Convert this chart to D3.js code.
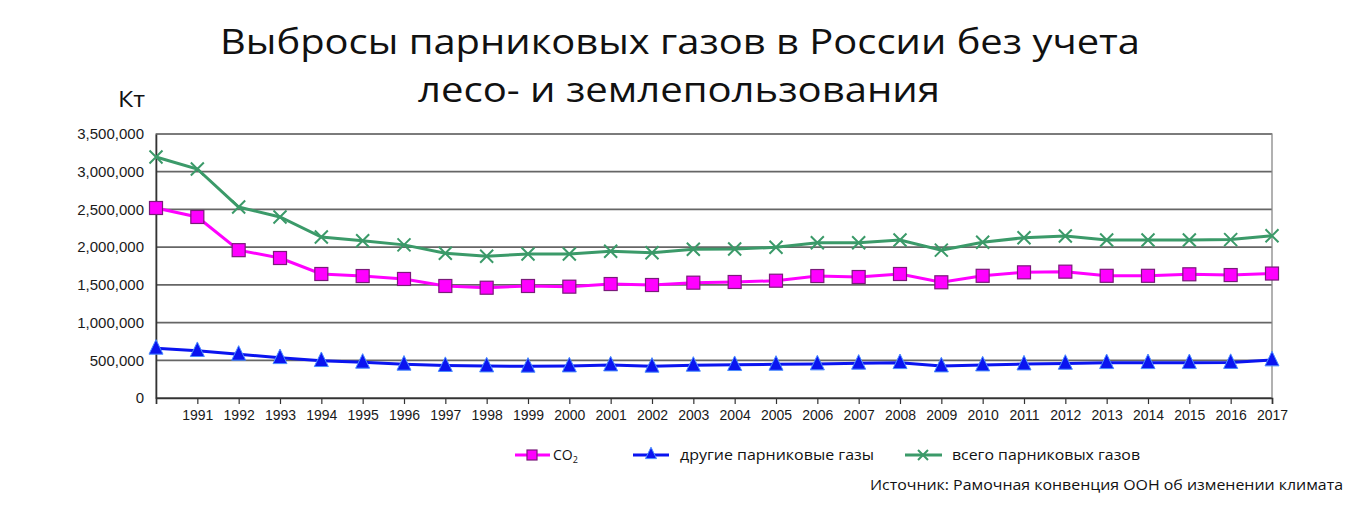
<!DOCTYPE html>
<html><head><meta charset="utf-8">
<script src="https://cdn.jsdelivr.net/npm/d3@7"></script>
<style>body{margin:0;background:#fff}svg{display:block}</style>
</head><body>
<svg id="c" width="1360" height="513"></svg>
<script>
const years = d3.range(1990, 2018);
const co2 = [2519,2400,1960,1856,1644,1617,1578,1485,1462,1485,1476,1511,1498,1529,1538,1555,1617,1604,1644,1534,1620,1666,1675,1620,1620,1640,1630,1650].map(v=>v*1000);
const other = [659,628,579,534,495,473,447,430,424,420,424,437,420,433,442,446,451,460,468,424,437,450,459,468,468,468,470,504].map(v=>v*1000);
const total = [3195,3036,2532,2400,2134,2085,2030,1918,1880,1909,1909,1945,1925,1971,1975,1998,2059,2059,2095,1960,2064,2125,2148,2095,2095,2095,2100,2150].map(v=>v*1000);
const yTicks = [0,500000,1000000,1500000,2000000,2500000,3000000,3500000];
const seriesNames = ["CO","другие парниковые газы","всего парниковых газов"];
const titleLines = ["Выбросы парниковых газов в России без учета","лесо- и землепользования"];
const unitLabel = "Кт";
const sourceText = "Источник: Рамочная конвенция ООН об изменении климата";

const svg = d3.select("#c");
const L=156, R=1272, T=134, B=398;
const x = d3.scaleLinear().domain([1990,2017]).range([L,R]);
const y = d3.scaleLinear().domain([0,3500000]).range([B,T]);

// title
svg.append("text").attr("x",680).attr("y",54).attr("text-anchor","middle")
  .attr("font-family","Open Sans").attr("font-size",35).attr("fill","#111")
  .attr("textLength",920).attr("lengthAdjust","spacingAndGlyphs").text(titleLines[0]);
svg.append("text").attr("x",679).attr("y",102).attr("text-anchor","middle")
  .attr("font-family","Open Sans").attr("font-size",35).attr("fill","#111")
  .attr("textLength",522).attr("lengthAdjust","spacingAndGlyphs").text(titleLines[1]);
svg.append("text").attr("x",118).attr("y",107)
  .attr("font-family","Open Sans").attr("font-size",22).attr("fill","#111")
  .attr("textLength",27).attr("lengthAdjust","spacingAndGlyphs").text(unitLabel);

// gridlines
svg.append("g").selectAll("line").data(yTicks).join("line")
  .attr("x1",L).attr("x2",R).attr("y1",d=>y(d)).attr("y2",d=>y(d))
  .attr("stroke","#666").attr("stroke-width",1.8);
// border
svg.append("rect").attr("x",L).attr("y",T).attr("width",R-L).attr("height",B-T)
  .attr("fill","none").attr("stroke","#888").attr("stroke-width",1.3);

// y axis
const ya = svg.append("g").attr("transform",`translate(${L},0)`)
  .call(d3.axisLeft(y).tickValues(yTicks).tickSize(0).tickPadding(12).tickFormat(d3.format(",")));
ya.select(".domain").attr("stroke","#333").attr("stroke-width",1.6);
ya.selectAll("text").attr("font-family","Liberation Sans, Arial").attr("font-size",15).attr("fill","#1a1a1a");

// x axis
const xa = svg.append("g").attr("transform",`translate(0,${B})`)
  .call(d3.axisBottom(x).tickValues(years).tickSize(6).tickPadding(6).tickFormat(d=>d===1990?"":d));
xa.select(".domain").attr("stroke","#333").attr("stroke-width",1.6);
xa.selectAll(".tick line").attr("stroke","#333").attr("stroke-width",1.2);
xa.selectAll("text").attr("font-family","Liberation Sans, Arial").attr("font-size",14).attr("fill","#1a1a1a");

const line = d3.line().x((d,i)=>x(years[i])).y(d=>y(d));
const green="#3b9a69", magenta="#ff00ff", blue="#0a14f0";

function drawSquare(g,cx,cy,s){g.append("rect").attr("x",cx-s/2).attr("y",cy-s/2).attr("width",s).attr("height",s).attr("fill",magenta).attr("stroke","#7a1a7a").attr("stroke-width",1.2);}
function drawTri(g,cx,cy,s){g.append("path").attr("d",`M${cx},${cy-s*0.62}L${cx+s/2},${cy+s*0.42}L${cx-s/2},${cy+s*0.42}Z`).attr("fill",blue).attr("stroke","#4a8cff").attr("stroke-width",1);}
function drawX(g,cx,cy,s){g.append("path").attr("d",`M${cx-s/2},${cy-s/2}L${cx+s/2},${cy+s/2}M${cx-s/2},${cy+s/2}L${cx+s/2},${cy-s/2}`).attr("stroke",green).attr("stroke-width",2);}

// total series
svg.append("path").datum(total).attr("d",line).attr("fill","none").attr("stroke",green).attr("stroke-width",3);
const gT = svg.append("g"); total.forEach((v,i)=>drawX(gT,x(years[i]),y(v),13));
// co2
svg.append("path").datum(co2).attr("d",line).attr("fill","none").attr("stroke",magenta).attr("stroke-width",3);
const gC = svg.append("g"); co2.forEach((v,i)=>drawSquare(gC,x(years[i]),y(v),13));
// other
svg.append("path").datum(other).attr("d",line).attr("fill","none").attr("stroke",blue).attr("stroke-width",3);
const gO = svg.append("g"); other.forEach((v,i)=>drawTri(gO,x(years[i]),y(v),14));

// legend
const ly=455;
const lg = svg.append("g");
lg.append("line").attr("x1",515).attr("x2",550).attr("y1",ly).attr("y2",ly).attr("stroke",magenta).attr("stroke-width",3);
drawSquare(lg,532,ly,10);
const t1 = lg.append("text").attr("x",553).attr("y",ly+5).attr("font-family","Open Sans").attr("font-size",14).attr("fill","#111");
t1.append("tspan").text(seriesNames[0]);
t1.append("tspan").attr("font-size",9).attr("dy",3).text("2");
lg.append("line").attr("x1",633).attr("x2",669).attr("y1",ly).attr("y2",ly).attr("stroke",blue).attr("stroke-width",3);
drawTri(lg,651,ly-1,11);
lg.append("text").attr("x",680).attr("y",ly+5).attr("font-family","Open Sans").attr("font-size",15).attr("fill","#111")
  .attr("textLength",194).attr("lengthAdjust","spacingAndGlyphs").text(seriesNames[1]);
lg.append("line").attr("x1",905).attr("x2",942).attr("y1",ly).attr("y2",ly).attr("stroke",green).attr("stroke-width",3);
drawX(lg,923,ly,10);
lg.append("text").attr("x",952).attr("y",ly+5).attr("font-family","Open Sans").attr("font-size",15).attr("fill","#111")
  .attr("textLength",188).attr("lengthAdjust","spacingAndGlyphs").text(seriesNames[2]);

svg.append("text").attr("x",870).attr("y",490).attr("font-family","Open Sans").attr("font-size",15).attr("fill","#111")
  .attr("textLength",473).attr("lengthAdjust","spacingAndGlyphs").text(sourceText);
</script>
</body></html>
